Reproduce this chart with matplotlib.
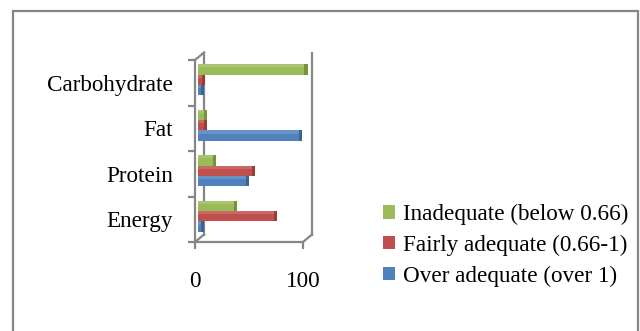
import matplotlib
matplotlib.use('Agg')
import matplotlib.pyplot as plt
import matplotlib.transforms as mtransforms
from matplotlib.patches import Rectangle, Patch
import numpy as np

plt.rcParams['font.family'] = ['Liberation Serif', 'DejaVu Serif']

# ---- data ----
categories = ['Energy', 'Protein', 'Fat', 'Carbohydrate']
over_adequate = [3, 45, 94, 3]
fairly_adequate = [71, 50, 6, 4]
inadequate = [34, 14, 6, 99]
x_ticks = [0, 100]
series_labels = ['Over adequate (over 1)', 'Fairly adequate (0.66-1)', 'Inadequate (below 0.66)']

colors = ['#4F81BD', '#C0504D', '#9BBB59']
dark = ['#3B6597', '#983D3A', '#76933C']
gray = '#868686'
FS = 16.7

fig = plt.figure(figsize=(6.4, 3.31), dpi=100)

# outer chart border
fig.patches.append(Rectangle((13/640, -0.1), 625/640, 1.1 - 11/331, transform=fig.transFigure,
                             fill=False, edgecolor=gray, lw=1.6))

ax = fig.add_axes([195/640, 1-242/331, 108/640, 182/331])
ax.set_xlim(0, 100)
ax.set_ylim(-0.5, len(categories) - 0.5)
ax.patch.set_visible(False)

depth_x = 9 * 100 / 108      # depth of 3D wall in data units
depth_y = 7.5 / 182          # in axes fraction
xt = ax.get_xaxis_transform()

# back wall and floor edges
for xv in x_ticks:
    ax.plot([xv + depth_x, xv + depth_x], [depth_y, 1 + depth_y], color=gray, lw=1.6,
            transform=xt, clip_on=False, zorder=1)
    ax.plot([xv, xv + depth_x], [0, depth_y], color=gray, lw=1.6, transform=xt, clip_on=False, zorder=1)
ax.plot([0, depth_x], [1, 1 + depth_y], color=gray, lw=1.6, transform=xt, clip_on=False, zorder=1)

bar_off = mtransforms.ScaledTranslation(2.5/100, 3/100, fig.dpi_scale_trans)
y = np.arange(len(categories))
h = 0.23
cap = 3.0
handles = []
for i, (vals, c, d) in enumerate(zip([over_adequate, fairly_adequate, inadequate], colors, dark)):
    pos = y + (i - 1) * h
    ax.barh(pos, vals, height=h, color=c, transform=ax.transData + bar_off, zorder=3, clip_on=False)
    ax.barh(pos, [cap] * len(vals), left=vals, height=h, color=d,
            transform=ax.transData + bar_off, zorder=3, clip_on=False)
    # light top strip
    ax.barh(pos + h * 0.35, vals, height=h * 0.3, color='white', alpha=0.15,
            transform=ax.transData + bar_off, zorder=4, clip_on=False)
    handles.append(Patch(facecolor=c, label=series_labels[i]))

for s in ['top', 'right']:
    ax.spines[s].set_visible(False)
for s in ['left', 'bottom']:
    ax.spines[s].set_color(gray)
    ax.spines[s].set_linewidth(1.6)

ax.set_xticks(x_ticks)
ax.set_xticklabels([str(v) for v in x_ticks], fontsize=FS)
ax.tick_params(axis='x', direction='out', length=5, width=1.6, color=gray, pad=16)

ax.set_yticks(np.arange(-0.5, len(categories), 1))
ax.set_yticklabels([])
ax.set_yticks(y, minor=True)
ax.set_yticklabels(categories, minor=True, fontsize=FS)
ax.tick_params(axis='y', which='major', direction='out', length=5, width=1.6, color=gray)
ax.tick_params(axis='y', which='minor', length=0, pad=16)

fig.legend(handles=handles[::-1], loc='upper left', bbox_to_anchor=(383/640, 1 - 204/331),
           frameon=False, fontsize=FS, handlelength=0.5, handleheight=0.5,
           handletextpad=0.35, labelspacing=0.42, borderaxespad=0, borderpad=0)

fig.savefig('out.png', dpi=100)
